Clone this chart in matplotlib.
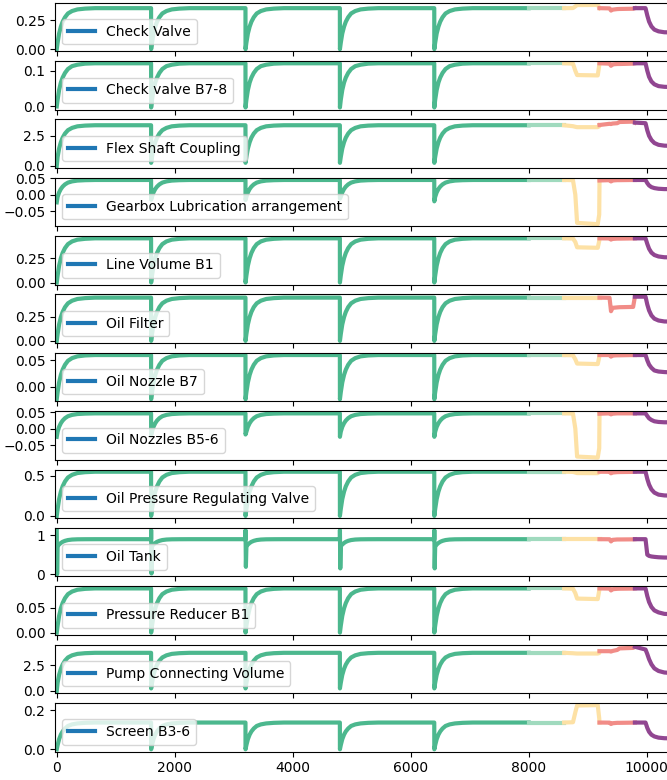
import matplotlib
matplotlib.use("Agg")
import matplotlib.pyplot as plt
from matplotlib.lines import Line2D

labels = ["Check Valve", "Check valve B7-8", "Flex Shaft Coupling",
          "Gearbox Lubrication arrangement", "Line Volume B1", "Oil Filter",
          "Oil Nozzle B7", "Oil Nozzles B5-6", "Oil Pressure Regulating Valve",
          "Oil Tank", "Pressure Reducer B1", "Pump Connecting Volume",
          "Screen B3-6"]

yticks = [[0.00, 0.25], [0.0, 0.1], [0.0, 2.5], [-0.05, 0.00, 0.05],
          [0.00, 0.25], [0.00, 0.25], [0.00, 0.05], [-0.05, 0.00, 0.05],
          [0.0, 0.5], [0, 1], [0.00, 0.05], [0.0, 2.5], [0.0, 0.2]]

# restart cycles
cycle_starts = [0, 1600, 3200, 4800, 6400]
cycle_dt = [0, 15, 40, 70, 100, 140, 190, 260, 350, 480, 650]

# value at each restart (bottom of the drop)
dips = [
    [0.0, 0.0, 0.0, 0.0, 0.0],
    [0.0, -0.003, -0.003, -0.003, -0.003],
    [0.0, 0.25, 0.25, 0.25, 0.25],
    [-0.023, -0.015, -0.016, -0.012, -0.02],
    [0.0, 0.0, 0.0, 0.0, 0.0],
    [0.0, 0.0, 0.0, 0.0, 0.0],
    [-0.023, -0.023, -0.023, -0.023, -0.023],
    [-0.025, -0.02, -0.018, -0.025, -0.025],
    [0.0, 0.0, 0.0, 0.0, 0.0],
    [0.0, 0.02, 0.19, 0.15, 0.15],
    [0.0, 0.0, 0.0, 0.0, 0.0],
    [0.0, 0.25, 0.25, 0.25, 0.25],
    [0.0, 0.0, 0.0, 0.0, 0.0],
]

# short spike above the plateau at each restart (Oil Tank only)
spikes = [None, None, None, None, None, None, None, None, None, 1.13,
          None, None, None]

# recovery after a restart, at cycle_dt[1:]
recovery = [
    [0.057, 0.136, 0.196, 0.239, 0.278, 0.311, 0.332, 0.346, 0.353, 0.357],
    [0.019, 0.046, 0.067, 0.081, 0.094, 0.105, 0.113, 0.117, 0.120, 0.121],
    [0.75, 1.44, 1.97, 2.35, 2.69, 2.97, 3.16, 3.29, 3.35, 3.38],
    [-0.0063, 0.007, 0.0173, 0.0245, 0.0312, 0.0366, 0.0403, 0.0427, 0.0439, 0.0445],
    [0.073, 0.174, 0.252, 0.307, 0.357, 0.398, 0.426, 0.444, 0.453, 0.458],
    [0.072, 0.172, 0.249, 0.303, 0.353, 0.393, 0.42, 0.438, 0.447, 0.452],
    [-0.0097, 0.0085, 0.0227, 0.0326, 0.0417, 0.0492, 0.0542, 0.0575, 0.0592, 0.06],
    [-0.0094, 0.0051, 0.0163, 0.0242, 0.0315, 0.0374, 0.0414, 0.044, 0.0453, 0.046],
    [0.088, 0.209, 0.3025, 0.3685, 0.429, 0.4785, 0.5115, 0.5335, 0.5445, 0.55],
    [0.72, 0.76, 0.8, 0.83, 0.855, 0.875, 0.888, 0.894, 0.896, 0.897],
    [0.0143, 0.034, 0.0493, 0.06, 0.0699, 0.078, 0.0833, 0.0869, 0.0887, 0.0896],
    [0.805, 1.569, 2.159, 2.575, 2.957, 3.269, 3.477, 3.616, 3.685, 3.72],
    [0.022, 0.052, 0.0756, 0.092, 0.107, 0.12, 0.128, 0.133, 0.136, 0.1375],
]

# last part of the run (8000 onwards)
tail_t = [8000, 8600, 8750, 8790, 8820, 9170, 9195, 9200, 9370, 9395, 9420,
          9500, 9540, 9770, 9800, 9980, 10010, 10040, 10080, 10130, 10200,
          10300, 10500]
tail_v = [
    [0.357, 0.357, 0.358, 0.372, 0.384, 0.385, 0.36, 0.357, 0.355, 0.336, 0.344,
     0.349, 0.35, 0.352, 0.357, 0.357, 0.293, 0.24, 0.198, 0.17, 0.155, 0.147, 0.145],
    [0.121, 0.121, 0.12, 0.1, 0.088, 0.087, 0.115, 0.121, 0.12, 0.114, 0.118,
     0.119, 0.119, 0.12, 0.121, 0.121, 0.1, 0.083, 0.07, 0.062, 0.057, 0.055, 0.054],
    [3.38, 3.38, 3.3, 3.25, 3.22, 3.22, 3.3, 3.4, 3.5, 3.48, 3.52,
     3.55, 3.65, 3.68, 3.6, 3.55, 2.95, 2.5, 2.15, 1.9, 1.75, 1.68, 1.65],
    [0.0445, 0.0445, 0.044, 0.0, -0.085, -0.089, -0.06, 0.043, 0.044, 0.04, 0.043,
     0.044, 0.044, 0.0445, 0.0445, 0.0445, 0.035, 0.028, 0.023, 0.02, 0.018, 0.017, 0.017],
    [0.458, 0.458, 0.456, 0.42, 0.365, 0.36, 0.43, 0.458, 0.457, 0.445, 0.452,
     0.455, 0.455, 0.457, 0.458, 0.458, 0.4, 0.35, 0.31, 0.285, 0.27, 0.262, 0.26],
    [0.452, 0.452, 0.452, 0.452, 0.452, 0.452, 0.452, 0.452, 0.45, 0.31, 0.345,
     0.35, 0.352, 0.355, 0.462, 0.462, 0.38, 0.318, 0.266, 0.232, 0.213, 0.203, 0.2],
    [0.06, 0.06, 0.0595, 0.052, 0.044, 0.043, 0.056, 0.06, 0.06, 0.057, 0.059,
     0.0595, 0.0595, 0.06, 0.06, 0.06, 0.05, 0.042, 0.036, 0.031, 0.029, 0.028, 0.027],
    [0.046, 0.046, 0.0455, 0.0, -0.085, -0.088, -0.06, 0.045, 0.046, 0.043, 0.045,
     0.046, 0.046, 0.046, 0.046, 0.046, 0.038, 0.031, 0.026, 0.022, 0.02, 0.019, 0.019],
    [0.55, 0.55, 0.548, 0.54, 0.533, 0.532, 0.545, 0.55, 0.549, 0.53, 0.54,
     0.545, 0.546, 0.548, 0.55, 0.55, 0.46, 0.39, 0.33, 0.29, 0.265, 0.255, 0.25],
    [0.897, 0.897, 0.897, 0.897, 0.897, 0.897, 0.897, 0.897, 0.895, 0.84, 0.88,
     0.89, 0.89, 0.893, 0.897, 0.897, 0.5, 0.47, 0.455, 0.445, 0.435, 0.428, 0.425],
    [0.0896, 0.0896, 0.089, 0.08, 0.069, 0.068, 0.085, 0.0896, 0.0893, 0.0855, 0.088,
     0.0888, 0.089, 0.0893, 0.0896, 0.0896, 0.074, 0.062, 0.052, 0.045, 0.041, 0.038, 0.037],
    [3.72, 3.72, 3.68, 3.66, 3.65, 3.65, 3.7, 3.88, 3.88, 3.84, 3.9,
     4.0, 4.15, 4.2, 4.31, 4.04, 3.6, 3.1, 2.6, 2.2, 1.95, 1.8, 1.72],
    [0.1375, 0.1375, 0.139, 0.19, 0.225, 0.227, 0.16, 0.1375, 0.137, 0.13, 0.134,
     0.136, 0.136, 0.137, 0.1375, 0.1375, 0.11, 0.09, 0.075, 0.066, 0.06, 0.057, 0.056],
]

phase_edges = [0, 8000, 8600, 9200, 9800, 20000]
phase_colors = ['#4cb88e', '#a0dabe', '#fde1a5', '#f18c87', '#914691']


def build_series(k):
    t, v = [], []
    for i, t0 in enumerate(cycle_starts):
        if i > 0:
            t.append(t0 - 1)
            v.append(recovery[k][-1])
        if spikes[k] is not None:
            t.append(t0)
            v.append(spikes[k])
            t.append(t0 + 6)
        else:
            t.append(t0)
        v.append(dips[k][i])
        for dt, val in zip(cycle_dt[1:], recovery[k]):
            t.append(t0 + dt)
            v.append(val)
    t += tail_t
    v += tail_v[k]
    return t, v


fig, axes = plt.subplots(13, 1, sharex=True, figsize=(6.67, 7.8), dpi=100)
fig.subplots_adjust(left=0.0825, right=1.01, top=0.9965, bottom=0.0365, hspace=0.2)

for k, ax in enumerate(axes):
    t, v = build_series(k)
    for p in range(len(phase_colors)):
        lo, hi = phase_edges[p], phase_edges[p + 1]
        seg = [(a, b) for a, b in zip(t, v) if lo <= a <= hi]
        ax.plot([s[0] for s in seg], [s[1] for s in seg], color=phase_colors[p], lw=3)
    ax.set_yticks(yticks[k])
    ax.legend(handles=[Line2D([], [], color='C0', lw=3)], labels=[labels[k]],
              loc='lower left')

axes[-1].set_xlim(-29, 10457)
axes[-1].set_xticks([0, 2000, 4000, 6000, 8000, 10000])

fig.savefig('out.png', dpi=100)
